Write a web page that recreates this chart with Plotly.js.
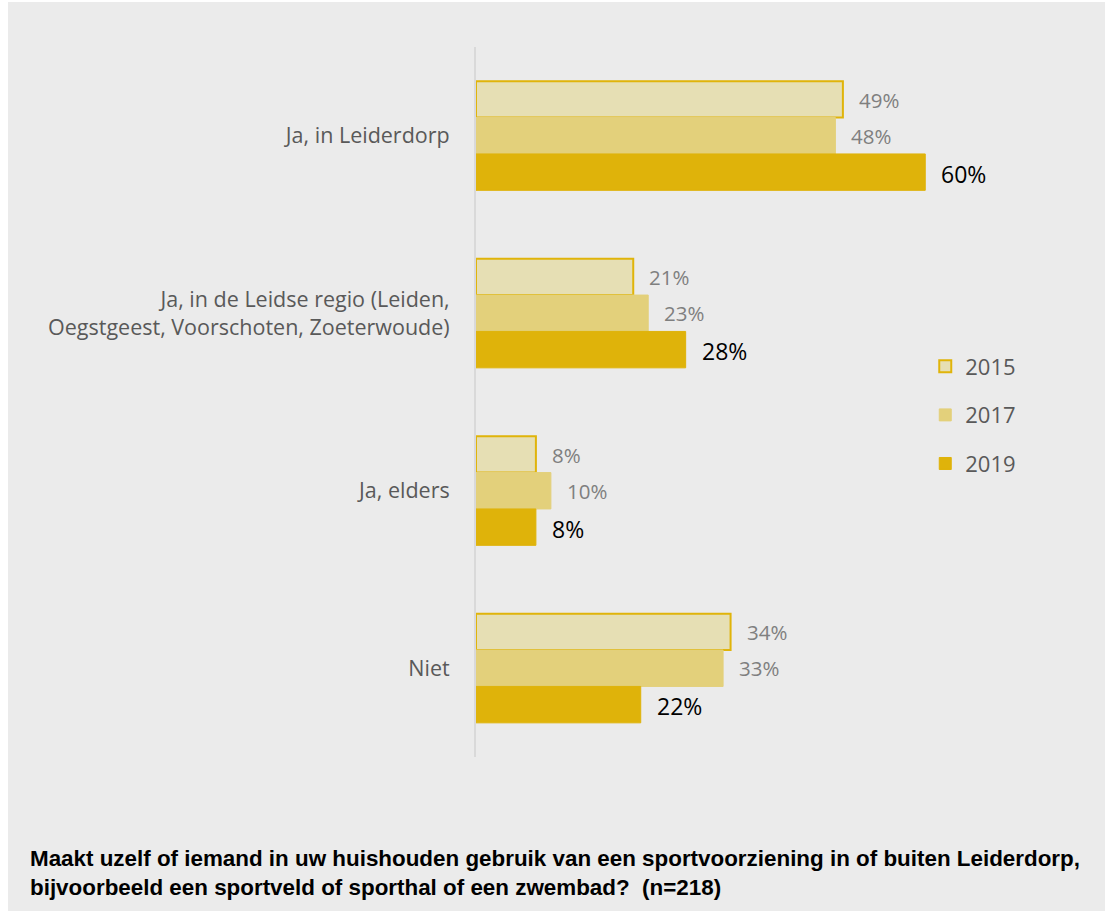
<!DOCTYPE html>
<html><head><meta charset="utf-8">
<script src="https://cdn.plot.ly/plotly-3.0.1.min.js"></script>
<style>body{margin:0;background:#ebebeb}#c{width:1105px;height:911px}</style>
</head><body><div id="c"></div>
<script>
const categories = ["Ja, in Leiderdorp", "Ja, in de Leidse regio (Leiden,<br>Oegstgeest, Voorschoten, Zoeterwoude)", "Ja, elders", "Niet"];
const years = ["2015", "2017", "2019"];
const values2015 = [49, 21, 8, 34];
const values2017 = [48, 23, 10, 33];
const values2019 = [60, 28, 8, 22];
const series = [values2015, values2017, values2019];
const fills = ["#e6dfb4", "#e3d07b", "#dfb30a"];
const lines = ["#e0b40a", "#e3d07b", "#dfb30a"];
const labelColors = ["#7f7f7f", "#7f7f7f", "#000000"];
const labelSizes = [20.5, 20.5, 23];
const labelShift = [-36, 0, 37];

const traces = series.map((vals, i) => ({
  type: "bar", orientation: "h", name: years[i], y: categories, x: vals,
  legendgroup: "g" + i,
  marker: {color: fills[i], line: {color: lines[i], width: i === 0 ? 2 : 1}},
  hoverinfo: "skip"
}));

const labelAnns = [];
series.forEach((vals, i) => vals.forEach((v, j) => labelAnns.push({
  xref: "x", yref: "y", x: v, y: categories[j], xanchor: "left", yanchor: "middle",
  xshift: 14, yshift: -labelShift[i] - (i === 2 ? 1 : 0), showarrow: false, text: v + "%",
  font: {family: "Open Sans, Noto Sans, sans-serif", size: labelSizes[i], color: labelColors[i]}
})));

const PW = 599, PH = 710, ML = 476, MT = 47;
const px = x => (x - ML) / PW;
const py = y => (MT + PH - y) / PH;

const layout = {
  width: 1105, height: 911,
  paper_bgcolor: "#ebebeb", plot_bgcolor: "#ebebeb",
  margin: {l: 476, r: 30, t: 47, b: 154},
  barmode: "group", bargap: 0.385, bargroupgap: 0,
  font: {family: "Open Sans, Noto Sans, sans-serif", color: "#595959"},
  xaxis: {range: [0, 80], showgrid: false, zeroline: false, showticklabels: false, showline: false, fixedrange: true},
  yaxis: {autorange: "reversed", showgrid: false, showline: true, linecolor: "#d9d9d9", linewidth: 2,
    ticks: "", ticklabelstandoff: 20, tickfont: {size: 21.5, color: "#595959"}},
  legend: {x: 0.75, y: 0.4817, yanchor: "middle", xanchor: "left", bgcolor: "rgba(0,0,0,0)",
    font: {size: 22, color: "#595959"}, tracegroupgap: 17, traceorder: "grouped"},
  showlegend: true,
  shapes: [
    {type: "rect", xref: "paper", yref: "paper", x0: px(0), x1: px(8), y0: py(911), y1: py(0), fillcolor: "#ffffff", line: {width: 0}, layer: "below"},
    {type: "rect", xref: "paper", yref: "paper", x0: px(0), x1: px(1105), y0: py(2), y1: py(0), fillcolor: "#ffffff", line: {width: 0}, layer: "below"}
  ],
  annotations: labelAnns.concat([{
    xref: "paper", yref: "paper", x: px(28), y: py(844), xanchor: "left", yanchor: "top", align: "left",
    showarrow: false,
    text: "<b>Maakt uzelf of iemand in uw huishouden gebruik van een sportvoorziening in of buiten Leiderdorp,<br>bijvoorbeeld een sportveld of sporthal of een zwembad?  (n=218)</b>",
    font: {family: "Liberation Sans, Arial, sans-serif", size: 22.4, color: "#000000"}
  }])
};
Plotly.newPlot("c", traces, layout, {displayModeBar: false, staticPlot: true});
</script></body></html>
